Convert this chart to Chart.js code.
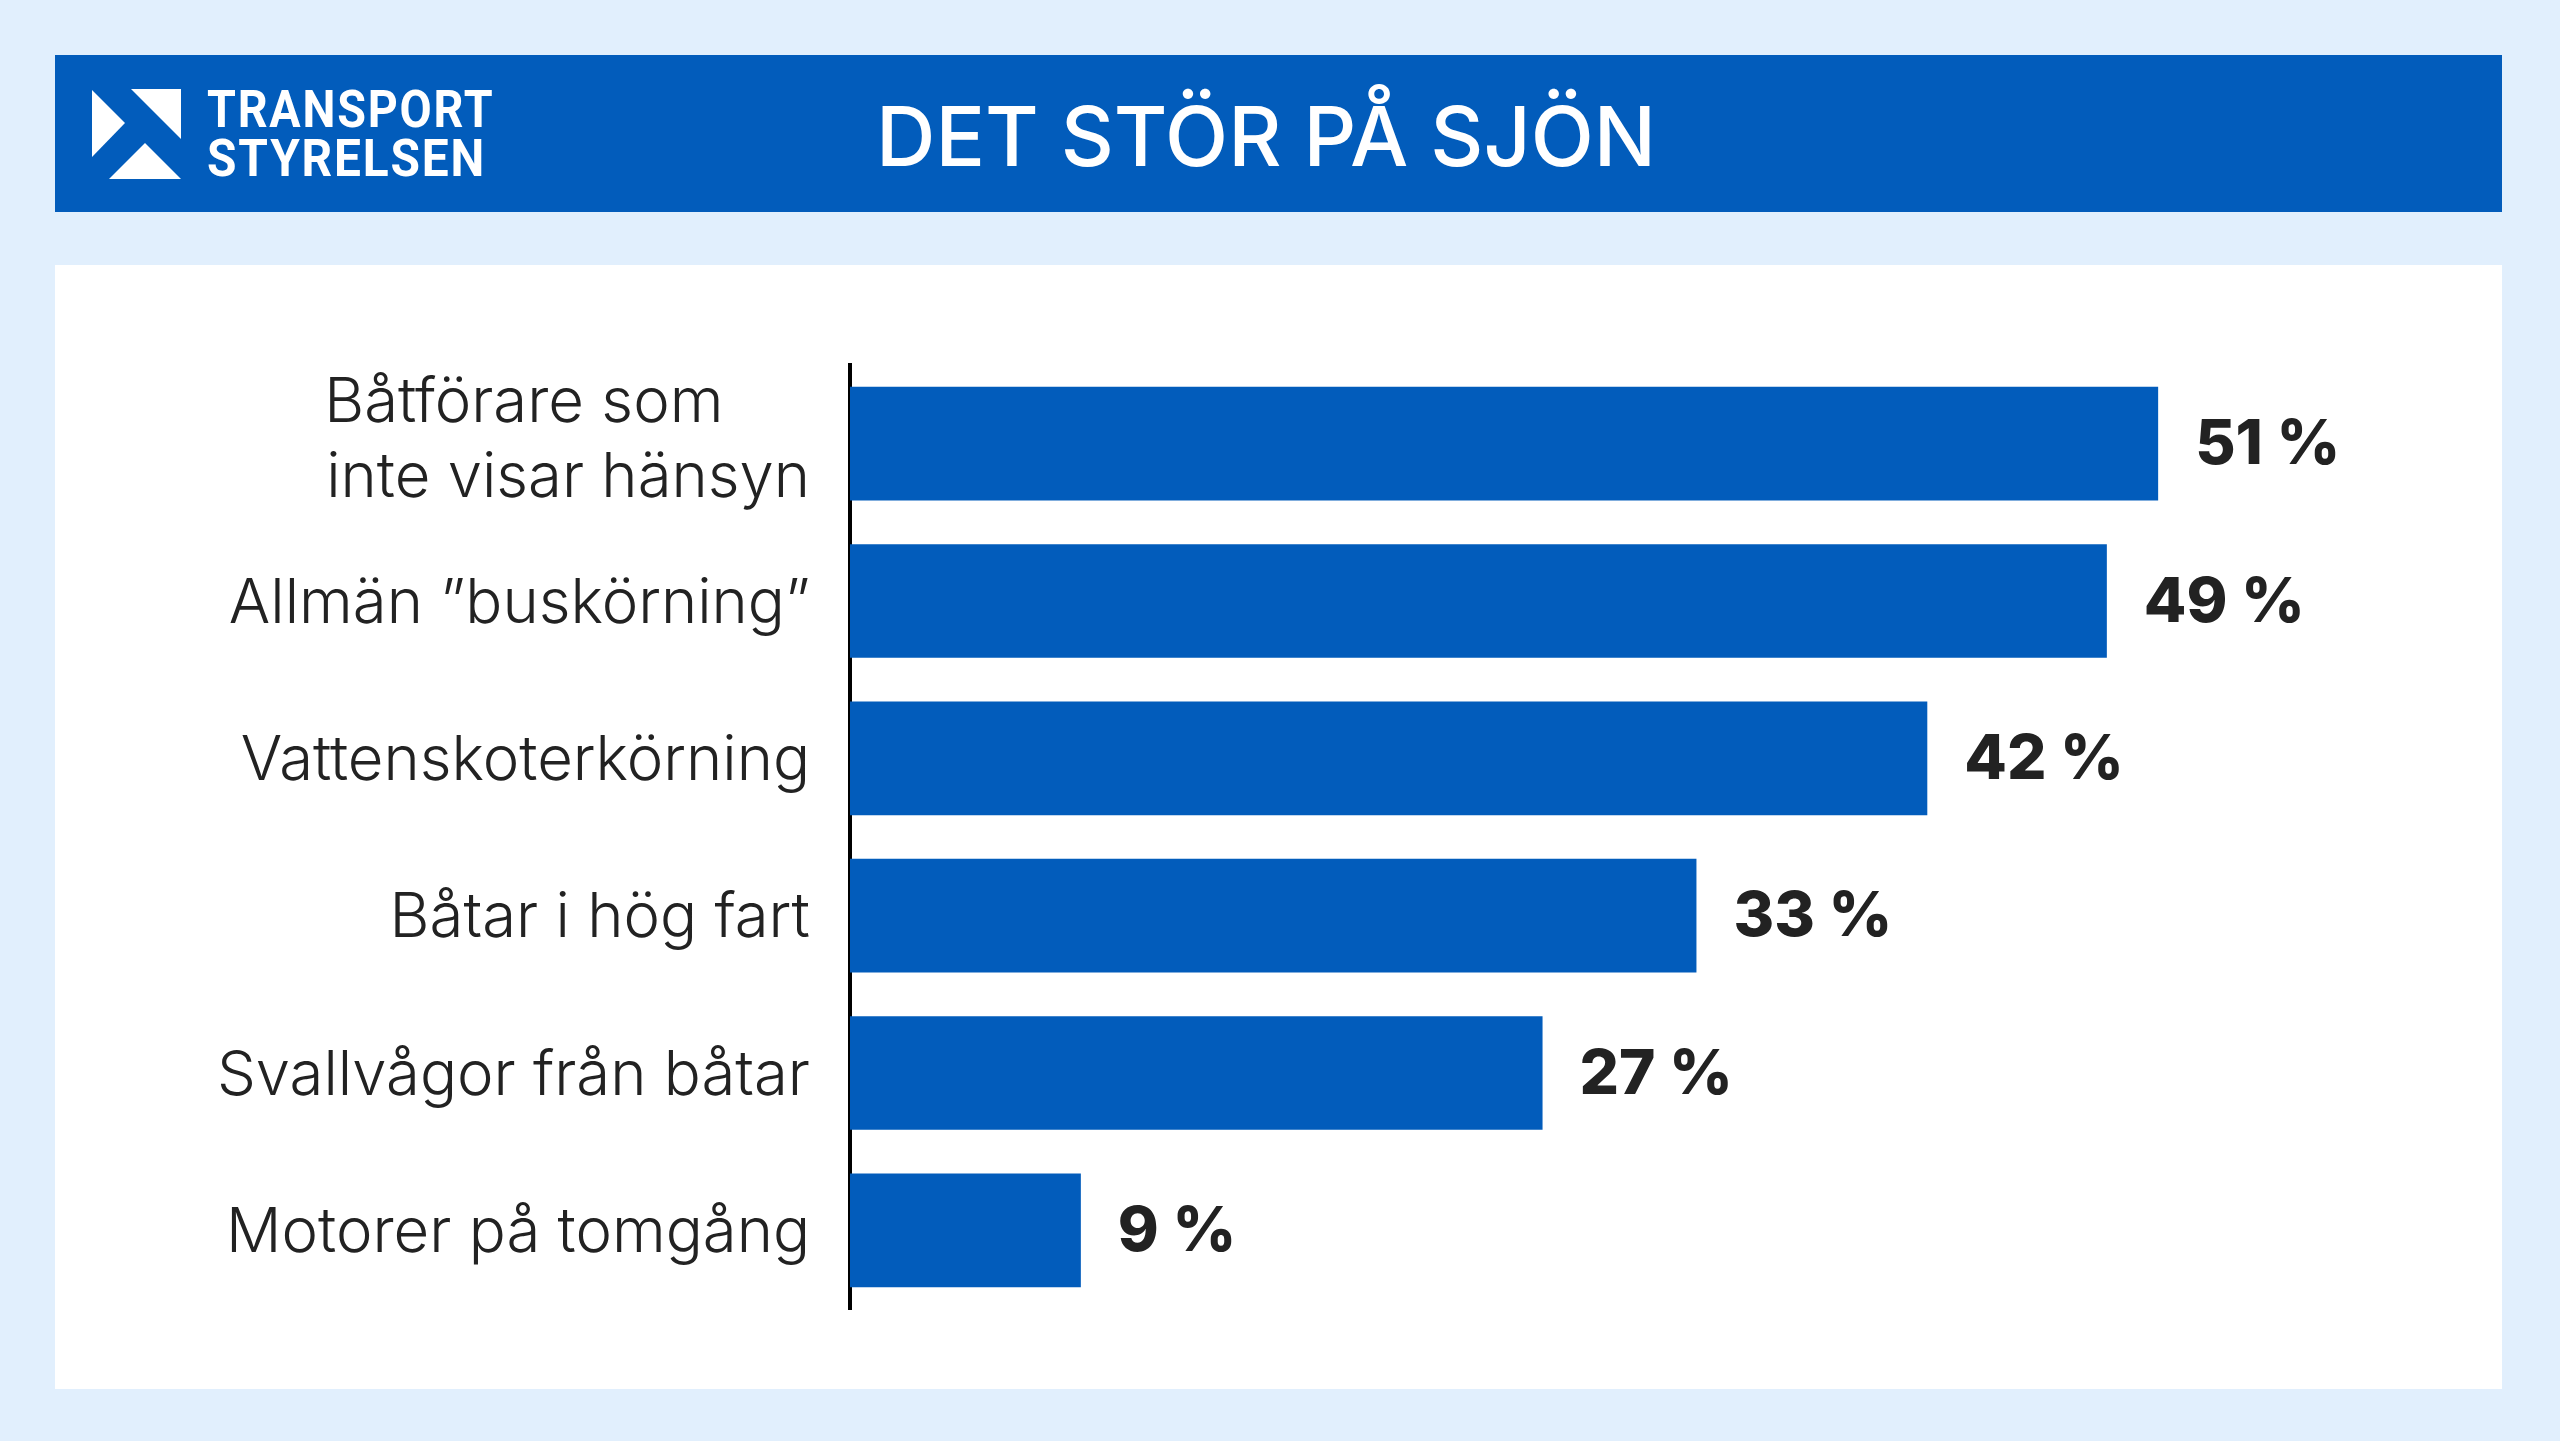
<!DOCTYPE html>
<html lang="sv">
<head>
<meta charset="utf-8">
<title>Det stör på sjön</title>
<script src="https://cdn.jsdelivr.net/npm/chart.js@4/dist/chart.umd.min.js"></script>
<style>
  html, body { margin: 0; padding: 0; background: #e1effd; }
  #page { position: relative; width: 2560px; height: 1441px; overflow: hidden; background: #e1effd; }
  #header { position: absolute; left: 55px; top: 55px; width: 2447px; height: 157px; background: #025cbb; }
  #panel { position: absolute; left: 55px; top: 265px; width: 2447px; height: 1124px; background: #fff; }
  #title {
    position: absolute; left: 876px; top: 80px; color: #fff;
    font: 450 82.3px Inter, sans-serif; line-height: 112px; white-space: nowrap;
  }
  #logo { position: absolute; left: 0; top: 0; }
  .logo-text {
    position: absolute; left: 207px; color: #fff; white-space: nowrap; transform-origin: left top;
    font: 700 52px Roboto, sans-serif; line-height: 52px; letter-spacing: 2px;
  }
  #chart { position: absolute; left: 0; top: 0; }
</style>
</head>
<body>
<div id="page">
  <div id="header"></div>
  <div id="panel"></div>
  <svg id="logo" width="200" height="212" viewBox="0 0 200 212">
    <polygon points="92,90 125,123 92,157" fill="#fff"/>
    <polygon points="131,89 181,89 181,139" fill="#fff"/>
    <polygon points="109,179 145,143 181,179" fill="#fff"/>
  </svg>
  <div class="logo-text" style="top:84px;transform:scaleX(0.897)">TRANSPORT</div>
  <div class="logo-text" style="top:133px;transform:scaleX(0.92)">STYRELSEN</div>
  <div id="title">DET STÖR PÅ SJÖN</div>
  <canvas id="chart" width="2560" height="1441"></canvas>
</div>
<script>
// Share of respondents, in percent
// (trailing spaces keep the two lines of the first label flush left)
const categories = [
  ['Båtförare som\u00A0\u00A0\u00A0\u00A0\u00A0', 'inte visar hänsyn'],
  'Allmän ”buskörning”',
  'Vattenskoterkörning',
  'Båtar i hög fart',
  'Svallvågor från båtar',
  'Motorer på tomgång',
];
const shares = [51, 49, 42, 33, 27, 9];

const BLUE = '#025cbb';
const INK = '#222222';

// Writes "51 %" after the end of each bar
const valueLabels = {
  id: 'valueLabels',
  afterDatasetsDraw(chart) {
    const ctx = chart.ctx;
    const bars = chart.getDatasetMeta(0).data;
    ctx.save();
    ctx.fillStyle = INK;
    ctx.font = '760 62px Inter, sans-serif';
    ctx.textAlign = 'left';
    ctx.textBaseline = 'middle';
    bars.forEach((bar, i) => {
      ctx.fillText(shares[i] + ' %', bar.x + 37, bar.y + 2);
    });
    ctx.restore();
  },
};

// The two-line label sits a little higher than the others
const liftFirstLabel = {
  id: 'liftFirstLabel',
  beforeDraw(chart) {
    chart.scales.y.getLabelItems()[0].textOffset -= 6;
  },
};

new Chart(document.getElementById('chart'), {
  type: 'bar',
  data: {
    labels: categories,
    datasets: [{
      data: shares,
      backgroundColor: BLUE,
      borderWidth: 0,
      categoryPercentage: 1,
      barPercentage: 0.722,
    }],
  },
  options: {
    indexAxis: 'y',
    responsive: false,
    animation: false,
    devicePixelRatio: 1,
    layout: { padding: { top: 365, bottom: 132, left: 0, right: 171 } },
    plugins: { legend: { display: false }, tooltip: { enabled: false } },
    scales: {
      x: { display: false, min: 0, max: 60 },
      y: {
        afterFit(scale) { scale.width = 850; },
        grid: { display: false, drawTicks: false },
        border: { display: true, color: '#000000', width: 4 },
        ticks: {
          color: INK,
          padding: 40,
          labelOffset: 3,
          autoSkip: false,
          font: { family: 'Inter, sans-serif', size: 61.6, weight: 300, lineHeight: 1.22 },
        },
      },
    },
  },
  plugins: [liftFirstLabel, valueLabels],
});
</script>
</body>
</html>
